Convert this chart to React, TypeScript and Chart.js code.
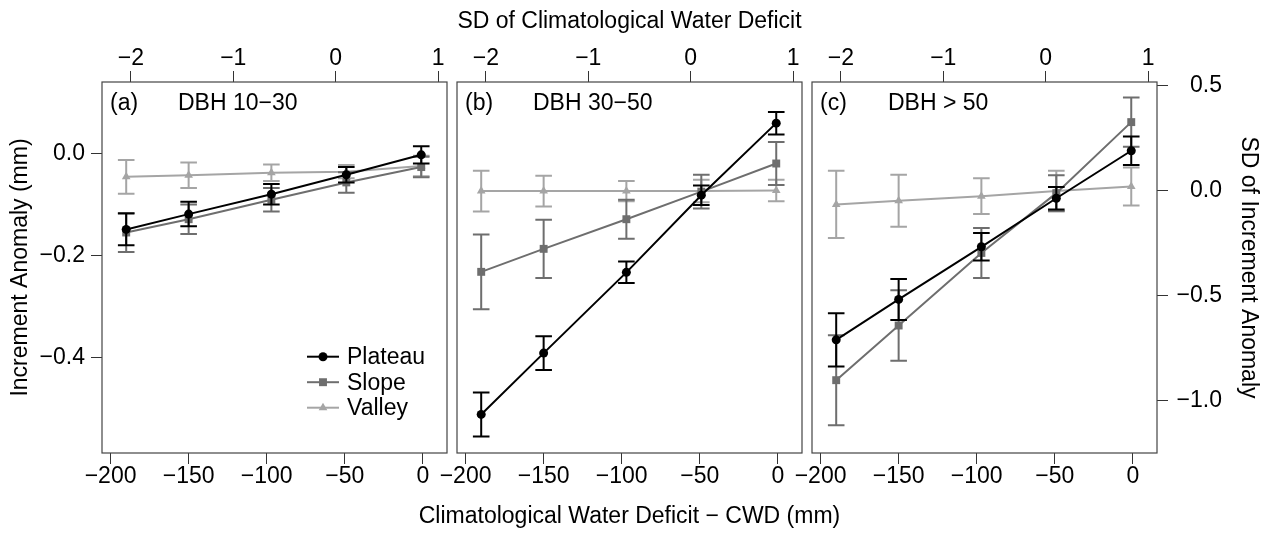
import { useEffect, useRef } from 'react';
import { Chart, registerables } from 'chart.js';

Chart.register(...registerables);

// ---------- data ----------
const CWD = [-190, -150, -97, -49, -1];
const CWD_TICKS = [-200, -150, -100, -50, 0];
const SD_CWD_TICKS = [-2, -1, 0, 1];
const INC_TICKS = [0, -0.2, -0.4];
const SD_INC_TICKS = [0.5, 0, -0.5, -1.0];

const SERIES = ['Plateau', 'Slope', 'Valley'];
const PANEL_TAGS = ['(a)', '(b)', '(c)'];
const PANEL_TITLES = ['DBH 10−30', 'DBH 30−50', 'DBH > 50'];
const X_TITLE = 'Climatological Water Deficit − CWD (mm)';
const X2_TITLE = 'SD of Climatological Water Deficit';
const Y_TITLE = 'Increment Anomaly (mm)';
const Y2_TITLE = 'SD of Increment Anomaly';

// panel (a) DBH 10-30
const plateauA = [-0.149, -0.119, -0.080, -0.042, -0.003];
const plateauErrA = [0.031, 0.024, 0.020, 0.015, 0.017];
const slopeA = [-0.155, -0.129, -0.091, -0.057, -0.027];
const slopeErrA = [0.038, 0.029, 0.023, 0.020, 0.020];
const valleyA = [-0.046, -0.043, -0.038, -0.036, -0.025];
const valleyErrA = [0.033, 0.025, 0.016, 0.013, 0.020];

// panel (b) DBH 30-50
const plateauB = [-0.511, -0.391, -0.233, -0.082, 0.059];
const plateauErrB = [0.043, 0.033, 0.021, 0.019, 0.022];
const slopeB = [-0.232, -0.187, -0.129, -0.075, -0.020];
const slopeErrB = [0.073, 0.057, 0.038, 0.033, 0.042];
const valleyB = [-0.074, -0.074, -0.074, -0.074, -0.073];
const valleyErrB = [0.040, 0.030, 0.020, 0.022, 0.021];

// panel (c) DBH > 50
const plateauC = [-0.365, -0.286, -0.183, -0.088, 0.005];
const plateauErrC = [0.052, 0.040, 0.027, 0.022, 0.028];
const slopeC = [-0.444, -0.337, -0.195, -0.078, 0.061];
const slopeErrC = [0.088, 0.069, 0.049, 0.035, 0.048];
const valleyC = [-0.100, -0.093, -0.084, -0.074, -0.065];
const valleyErrC = [0.066, 0.051, 0.035, 0.040, 0.037];

// axis ranges / transforms
const X_MIN = -205.5;
const X_MAX = 15.5;
const CWD_MEAN = -55.8;
const CWD_SD = 65.6;
const Y_MIN = -0.5865;
const Y_MAX = 0.1395;
const SDY_MIN = -1.248;
const SDY_MAX = 0.519;

// ---------- styles ----------
const W = 1270;
const H = 535;
const FONT_FAMILY = "'Liberation Sans', Arial, Helvetica, sans-serif";
const FONT_SIZE = 23;
const FONT = { family: FONT_FAMILY, size: FONT_SIZE };
const COLORS = ['#000000', '#6e6e6e', '#a5a5a5'];
const STYLES = ['circle', 'rect', 'triangle'];
const RADII = [4.5, 5.6, 5];
const CAP = 8.3;
const TICK_LEN = 11;

const PANEL_LEFT = [102, 457, 812];
const PANEL_RIGHT = [447, 802, 1157];
const PANEL_TOP = 82;
const PANEL_BOTTOM = 453;

const fmt = (v: number, d: number) => {
  const s = Math.abs(v).toFixed(d);
  return (v < -1e-9 ? '−' : '') + s;
};

const GRID = {
  drawOnChartArea: false,
  drawTicks: true,
  tickLength: TICK_LEN,
  color: '#333333',
  lineWidth: 1,
};

function drawMarker(ctx: CanvasRenderingContext2D, style: string, x: number, y: number, r: number) {
  ctx.beginPath();
  if (style === 'circle') {
    ctx.arc(x, y, r, 0, Math.PI * 2);
  } else if (style === 'rect') {
    const s = Math.SQRT1_2 * r;
    ctx.rect(x - s, y - s, 2 * s, 2 * s);
  } else {
    let rad = 0;
    ctx.moveTo(x + Math.sin(rad) * r, y - Math.cos(rad) * r);
    rad += (2 * Math.PI) / 3;
    ctx.lineTo(x + Math.sin(rad) * r, y - Math.cos(rad) * r);
    rad += (2 * Math.PI) / 3;
    ctx.lineTo(x + Math.sin(rad) * r, y - Math.cos(rad) * r);
    ctx.closePath();
  }
  ctx.fill();
}

const boxPlugin = {
  id: 'panelBox',
  beforeDatasetsDraw(chart: any) {
    const { ctx, chartArea: a } = chart;
    ctx.save();
    ctx.strokeStyle = '#444444';
    ctx.lineWidth = 1.2;
    ctx.strokeRect(a.left, a.top, a.right - a.left, a.bottom - a.top);
    ctx.restore();
  },
};

const errorBarPlugin = {
  id: 'errorBars',
  afterDatasetDraw(chart: any, args: any) {
    const ds = chart.data.datasets[args.index];
    const errs: number[] = ds.errs;
    if (!errs) return;
    const { ctx } = chart;
    const x = chart.scales.x;
    const y = chart.scales.y;
    ctx.save();
    ctx.strokeStyle = ds.borderColor;
    ctx.lineWidth = 2;
    ds.data.forEach((pt: any, i: number) => {
      const px = x.getPixelForValue(pt.x);
      const yt = y.getPixelForValue(pt.y + errs[i]);
      const yb = y.getPixelForValue(pt.y - errs[i]);
      ctx.beginPath();
      ctx.moveTo(px, yt);
      ctx.lineTo(px, yb);
      ctx.moveTo(px - CAP, yt);
      ctx.lineTo(px + CAP, yt);
      ctx.moveTo(px - CAP, yb);
      ctx.lineTo(px + CAP, yb);
      ctx.stroke();
    });
    ctx.restore();
  },
};

const labelPlugin = {
  id: 'panelLabel',
  afterDraw(chart: any, _args: any, opts: any) {
    const { ctx, chartArea: a } = chart;
    ctx.save();
    ctx.fillStyle = '#000';
    ctx.font = `${FONT_SIZE}px ${FONT_FAMILY}`;
    ctx.textAlign = 'left';
    ctx.textBaseline = 'alphabetic';
    ctx.fillText(opts.tag, a.left + 8, a.top + 28);
    ctx.fillText(opts.title, a.left + 76, a.top + 28);
    if (opts.xTitle) {
      ctx.textAlign = 'center';
      ctx.textBaseline = 'middle';
      ctx.fillText(opts.xTitle, (a.left + a.right) / 2, 516.5);
    }
    if (opts.legend) {
      ctx.textAlign = 'left';
      const dsets = chart.data.datasets;
      dsets.forEach((ds: any, k: number) => {
        const cy = a.top + 274.7 + k * 25.5;
        const x0 = a.left + 205;
        ctx.strokeStyle = ds.borderColor;
        ctx.fillStyle = ds.borderColor;
        ctx.lineWidth = 2;
        ctx.beginPath();
        ctx.moveTo(x0, cy);
        ctx.lineTo(x0 + 32, cy);
        ctx.stroke();
        drawMarker(ctx, ds.pointStyle, x0 + 16, cy, ds.pointRadius);
        ctx.fillStyle = '#000';
        ctx.textBaseline = 'middle';
        ctx.fillText(ds.label, x0 + 40, cy + 1);
      });
    }
    ctx.restore();
  },
};

function makeDatasets(vals: number[][], errs: number[][]) {
  return SERIES.map((name, k) => ({
    label: name,
    data: CWD.map((c, i) => ({ x: c, y: vals[k][i] })),
    errs: errs[k],
    borderColor: COLORS[k],
    backgroundColor: COLORS[k],
    pointBackgroundColor: COLORS[k],
    pointBorderColor: COLORS[k],
    borderWidth: 2,
    pointStyle: STYLES[k],
    pointRadius: RADII[k],
    pointBorderWidth: 0,
    tension: 0,
    fill: false,
  }));
}

function makeConfig(idx: number, vals: number[][], errs: number[][]): any {
  const scales: any = {
    x: {
      type: 'linear',
      position: 'bottom',
      min: X_MIN,
      max: X_MAX,
      bounds: 'data',
      afterBuildTicks: (s: any) => {
        s.ticks = CWD_TICKS.map((v) => ({ value: v }));
      },
      afterFit: (s: any) => {
        s.height = H - PANEL_BOTTOM;
      },
      ticks: {
        callback: (v: any) => fmt(Number(v), 0),
        padding: -1.5,
        color: '#000',
        font: FONT,
        autoSkip: false,
        maxRotation: 0,
        minRotation: 0,
      },
      grid: GRID,
      border: { display: false },
      title: { display: false },
    },
    x2: {
      type: 'linear',
      position: 'top',
      min: (X_MIN - CWD_MEAN) / CWD_SD,
      max: (X_MAX - CWD_MEAN) / CWD_SD,
      bounds: 'data',
      afterBuildTicks: (s: any) => {
        s.ticks = SD_CWD_TICKS.map((v) => ({ value: v }));
      },
      afterFit: (s: any) => {
        s.height = PANEL_TOP;
      },
      ticks: {
        callback: (v: any) => fmt(Number(v), 0),
        padding: -1,
        color: '#000',
        font: FONT,
        autoSkip: false,
        maxRotation: 0,
        minRotation: 0,
      },
      grid: GRID,
      border: { display: false },
      title:
        idx === 1
          ? {
              display: true,
              text: X2_TITLE,
              color: '#000',
              font: FONT,
              padding: { top: 7.5, bottom: 0 },
            }
          : { display: false },
    },
    y: {
      type: 'linear',
      position: 'left',
      min: Y_MIN,
      max: Y_MAX,
      bounds: 'data',
      display: idx === 0,
      afterBuildTicks: (s: any) => {
        s.ticks = INC_TICKS.map((v) => ({ value: v }));
      },
      ticks: {
        callback: (v: any) => fmt(Number(v), 1),
        padding: 6,
        color: '#000',
        font: FONT,
        autoSkip: false,
      },
      grid: GRID,
      border: { display: false },
      title: {
        display: idx === 0,
        text: Y_TITLE,
        color: '#000',
        font: FONT,
        padding: { top: 7, bottom: 0 },
      },
    },
  };
  if (idx === 0) {
    scales.y.afterFit = (s: any) => {
      s.width = PANEL_LEFT[0];
    };
  }
  if (idx === 2) {
    scales.y2 = {
      type: 'linear',
      position: 'right',
      min: SDY_MIN,
      max: SDY_MAX,
      bounds: 'data',
      afterBuildTicks: (s: any) => {
        s.ticks = SD_INC_TICKS.map((v) => ({ value: v }));
      },
      afterFit: (s: any) => {
        s.width = 65;
      },
      ticks: {
        callback: (v: any) => fmt(Number(v), 1),
        padding: 6,
        color: '#000',
        font: FONT,
        autoSkip: false,
        crossAlign: 'far',
      },
      grid: GRID,
      border: { display: false },
      title: {
        display: true,
        text: Y2_TITLE,
        color: '#000',
        font: FONT,
        padding: { top: -39.8, bottom: 0 },
      },
    };
  }

  const padLeft = idx === 0 ? 0 : PANEL_LEFT[idx];
  const padRight = idx === 2 ? W - PANEL_RIGHT[idx] - 65 : W - PANEL_RIGHT[idx];

  return {
    type: 'line',
    data: { datasets: makeDatasets(vals, errs) },
    options: {
      responsive: false,
      animation: false,
      devicePixelRatio: 1,
      layout: { padding: { left: padLeft, right: padRight, top: 0, bottom: 0 } },
      scales,
      plugins: {
        legend: { display: false },
        tooltip: { enabled: false },
        panelLabel: {
          tag: PANEL_TAGS[idx],
          title: PANEL_TITLES[idx],
          legend: idx === 0,
          xTitle: idx === 1 ? X_TITLE : '',
        },
      },
    },
    plugins: [boxPlugin, errorBarPlugin, labelPlugin],
  };
}

const PANEL_VALUES = [
  [plateauA, slopeA, valleyA],
  [plateauB, slopeB, valleyB],
  [plateauC, slopeC, valleyC],
];
const PANEL_ERRORS = [
  [plateauErrA, slopeErrA, valleyErrA],
  [plateauErrB, slopeErrB, valleyErrB],
  [plateauErrC, slopeErrC, valleyErrC],
];

function Panel({ idx }: { idx: number }) {
  const ref = useRef<HTMLCanvasElement | null>(null);
  useEffect(() => {
    if (!ref.current) return;
    const chart = new Chart(ref.current, makeConfig(idx, PANEL_VALUES[idx], PANEL_ERRORS[idx]));
    return () => chart.destroy();
  }, [idx]);
  return (
    <canvas
      ref={ref}
      width={W}
      height={H}
      style={{ position: 'absolute', left: 0, top: 0, width: W, height: H }}
    />
  );
}

export default function App() {
  return (
    <div style={{ position: 'fixed', left: 0, top: 0, width: W, height: H, background: '#fff' }}>
      <Panel idx={0} />
      <Panel idx={1} />
      <Panel idx={2} />
    </div>
  );
}
